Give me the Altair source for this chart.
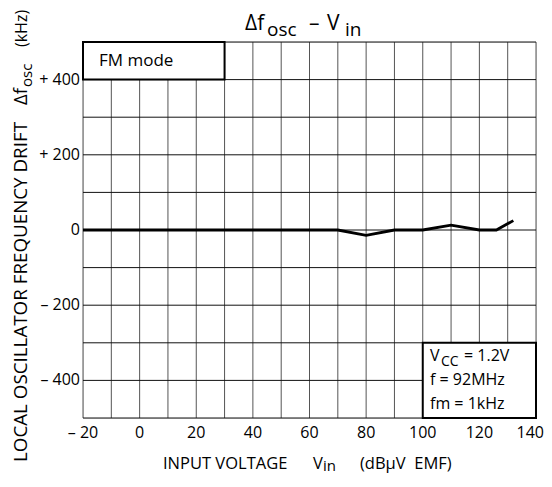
import altair as alt
import pandas as pd

# data
vin = [-20, 70, 80, 90, 100, 110, 120, 126, 132]
drift = [0, 0, -14, 0, 0, 13, 0, 0, 25]

box_x = [-20, 100]
box_x2 = [30, 140]
box_y = [400, -500]
box_y2 = [500, -300]

x_grid = list(range(-20, 141, 10))
y_grid = list(range(-500, 501, 100))

x_tick_values = [-20, 0, 20, 40, 60, 80, 100, 120, 140]
x_tick_labels = ["– 20", "0", "20", "40", "60", "80", "100", "120", "140"]
y_tick_values = [400, 200, 0, -200, -400]
y_tick_labels = ["+ 400", "+ 200", "0", "– 200", "– 400"]

FONT = "Open Sans"

line_df = pd.DataFrame({"vin": vin, "drift": drift})
box_df = pd.DataFrame({"x": box_x, "x2": box_x2, "y": box_y, "y2": box_y2})
xg_df = pd.DataFrame({"v": x_grid})
yg_df = pd.DataFrame({"v": y_grid})
xl_df = pd.DataFrame({"v": x_tick_values, "t": x_tick_labels})
yl_df = pd.DataFrame({"v": y_tick_values, "t": y_tick_labels})

xs = alt.Scale(domain=[-20, 140], nice=False, zero=False)
ys = alt.Scale(domain=[-500, 500], nice=False, zero=False)

vgrid = alt.Chart(xg_df).mark_rule(color="#555", strokeWidth=1).encode(
    x=alt.X("v:Q", scale=xs, axis=None),
)
hgrid = alt.Chart(yg_df).mark_rule(color="#111", strokeWidth=1).encode(
    y=alt.Y("v:Q", scale=ys, axis=None),
)

boxes = alt.Chart(box_df).mark_rect(fill="white", stroke="black", strokeWidth=2).encode(
    x=alt.X("x:Q", scale=xs, axis=None), x2="x2:Q",
    y=alt.Y("y:Q", scale=ys, axis=None), y2="y2:Q",
)

curve = alt.Chart(line_df).mark_line(color="black", strokeWidth=2.8).encode(
    x=alt.X("vin:Q", scale=xs, axis=None),
    y=alt.Y("drift:Q", scale=ys, axis=None),
)

xlabels = alt.Chart(xl_df).transform_filter("datum.v < 140").mark_text(
    font=FONT, fontSize=16, color="black", align="center", baseline="alphabetic"
).encode(x=alt.X("v:Q", scale=xs, axis=None), y=alt.value(396), text="t:N")

xlabel_last = alt.Chart(xl_df).transform_filter("datum.v >= 140").mark_text(
    font=FONT, fontSize=16, color="black", align="right", baseline="alphabetic", dx=8
).encode(x=alt.X("v:Q", scale=xs, axis=None), y=alt.value(396), text="t:N")

ylabels = alt.Chart(yl_df).mark_text(
    font=FONT, fontSize=16, color="black", align="right", baseline="middle"
).encode(y=alt.Y("v:Q", scale=ys, axis=None), x=alt.value(-3), text="t:N")


def txt(t, x, y, size, angle=0):
    return alt.Chart(alt.Data(values=[{}])).mark_text(
        text=t, font=FONT, fontSize=size, color="black",
        align="left", baseline="alphabetic", angle=angle,
    ).encode(x=alt.value(x), y=alt.value(y))


texts = [
    # title
    txt("Δf", 162, -12, 21),
    txt("osc", 184, -6, 19),
    txt("–", 226, -12, 21),
    txt("V", 244, -12, 21),
    txt("in", 262, -6, 19),
    # x title
    txt("INPUT VOLTAGE", 80, 427, 16.5),
    txt("V", 230, 427, 16.5),
    txt("in", 240, 429, 15),
    txt("(dBμV\u00a0\u00a0EMF)", 277, 427, 16.5),
    # y title
    txt("LOCAL OSCILLATOR FREQUENCY DRIFT", -56, 420, 18.8, 270),
    txt("Δf", -56, 63, 18.5, 270),
    txt("osc", -51, 45, 15, 270),
    txt("(kHz)", -56, 5, 16, 270),
    # annotations
    txt("FM mode", 16, 24, 17),
    txt("V", 347, 319, 16),
    txt("CC", 358, 324, 14),
    txt("= 1.2V", 381, 319, 16),
    txt("f = 92MHz", 347, 343, 16),
    txt("fm = 1kHz", 347, 367, 16),
]

chart = alt.layer(vgrid, hgrid, boxes, curve, xlabels, xlabel_last, ylabels, *texts).properties(
    width=453, height=376,
    autosize=alt.AutoSizeParams(type="none"),
    padding={"left": 75, "top": 34, "right": 8, "bottom": 55},
).configure_view(stroke="black", strokeWidth=2).configure(background="white")

chart.save("out.html", embed_options={"renderer": "svg", "actions": False})
